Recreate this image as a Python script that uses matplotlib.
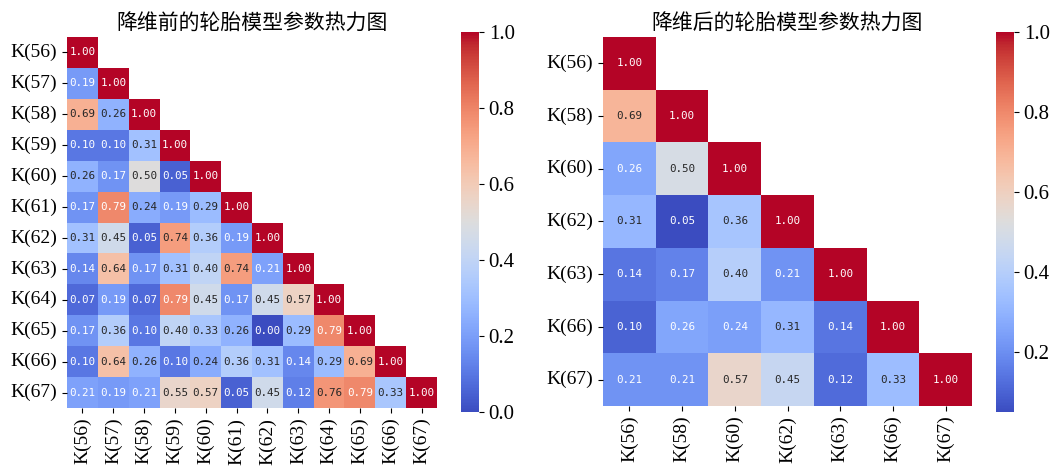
import numpy as np
import matplotlib
matplotlib.use("Agg")
import matplotlib.pyplot as plt
import seaborn as sns

# tyre model parameters and lower-triangle correlation coefficients
params = ["K(56)", "K(57)", "K(58)", "K(59)", "K(60)", "K(61)",
          "K(62)", "K(63)", "K(64)", "K(65)", "K(66)", "K(67)"]
lower_rows = [
    [1.00],
    [0.19, 1.00],
    [0.69, 0.26, 1.00],
    [0.10, 0.10, 0.31, 1.00],
    [0.26, 0.17, 0.50, 0.05, 1.00],
    [0.17, 0.79, 0.24, 0.19, 0.29, 1.00],
    [0.31, 0.45, 0.05, 0.74, 0.36, 0.19, 1.00],
    [0.14, 0.64, 0.17, 0.31, 0.40, 0.74, 0.21, 1.00],
    [0.07, 0.19, 0.07, 0.79, 0.45, 0.17, 0.45, 0.57, 1.00],
    [0.17, 0.36, 0.10, 0.40, 0.33, 0.26, 0.00, 0.29, 0.79, 1.00],
    [0.10, 0.64, 0.26, 0.10, 0.24, 0.36, 0.31, 0.14, 0.29, 0.69, 1.00],
    [0.21, 0.19, 0.21, 0.55, 0.57, 0.05, 0.45, 0.12, 0.76, 0.79, 0.33, 1.00],
]
# parameters kept after dimensionality reduction
kept = ["K(56)", "K(58)", "K(60)", "K(62)", "K(63)", "K(66)", "K(67)"]

titles = ["降维前的轮胎模型参数热力图", "降维后的轮胎模型参数热力图"]


def full_matrix(rows):
    n = len(rows)
    m = np.zeros((n, n))
    for i, r in enumerate(rows):
        m[i, :len(r)] = r
    return m + np.tril(m, -1).T


corr = full_matrix(lower_rows)
idx = [params.index(p) for p in kept]
corr_kept = corr[np.ix_(idx, idx)]

W, H = 1054, 472
fig = plt.figure(figsize=(W / 100, H / 100), dpi=100)


def px_axes(x0, y0, x1, y1):
    return fig.add_axes([x0 / W, 1 - y1 / H, (x1 - x0) / W, (y1 - y0) / H])


panels = [
    (corr, params, (67, 37, 437, 408), (461, 32, 479, 412)),
    (corr_kept, kept, (603, 37, 972, 406), (996, 32, 1014, 412)),
]

for (m, labels, box, cbox), title in zip(panels, titles):
    ax = px_axes(*box)
    cax = px_axes(*cbox)
    mask = np.triu(np.ones_like(m, dtype=bool), k=1)
    sns.heatmap(m, mask=mask, cmap="coolwarm", annot=True, fmt=".2f",
                annot_kws={"family": "DejaVu Sans Mono", "size": 7.8},
                ax=ax, cbar_ax=cax,
                xticklabels=labels, yticklabels=labels)
    ax.set_title(title, family=["Noto Sans CJK SC", "DejaVu Sans"],
                 fontsize=15, pad=5)
    ax.set_xticklabels(labels, rotation=90, family="Liberation Serif", fontsize=14)
    ax.set_yticklabels(labels, rotation=0, family="Liberation Serif", fontsize=14)
    for t in cax.get_yticklabels():
        t.set_family("Liberation Serif")
        t.set_fontsize(15)

fig.savefig("out.png", dpi=100)
